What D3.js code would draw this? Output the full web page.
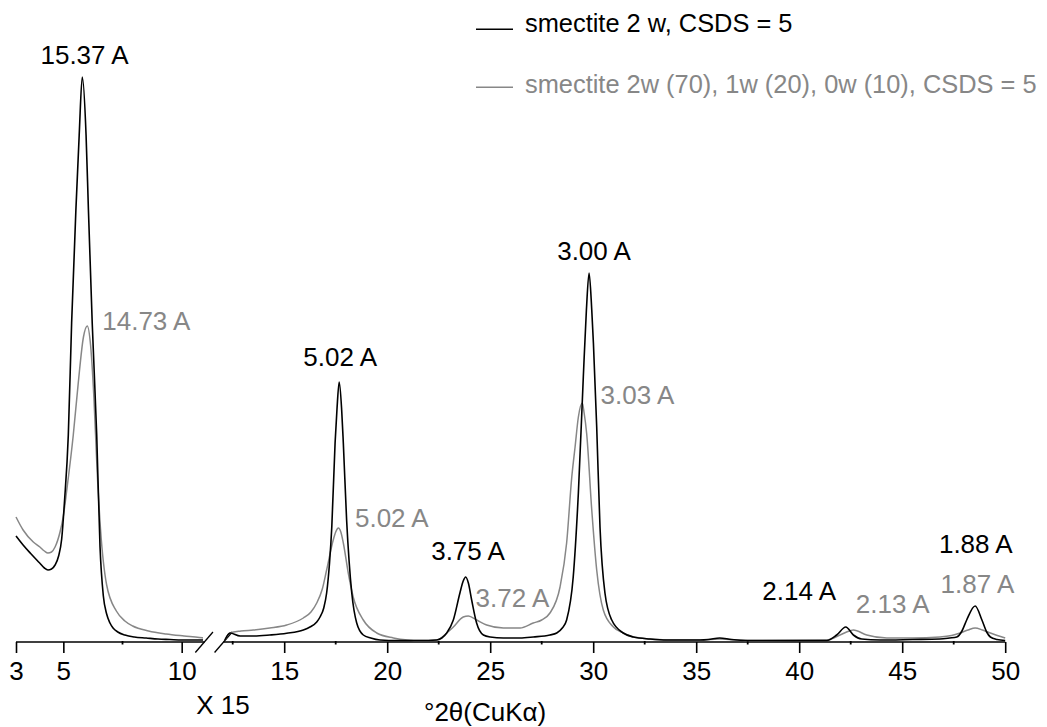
<!DOCTYPE html>
<html>
<head>
<meta charset="utf-8">
<script src="https://cdn.jsdelivr.net/npm/d3@7"></script>
<style>
  html, body { margin: 0; padding: 0; background: #fff; }
  svg { display: block; }
  text { font-family: "Liberation Sans", Arial, Helvetica, sans-serif; }
</style>
</head>
<body>
<svg id="chart" width="1047" height="727"></svg>
<script>
// ---------------- DATA ----------------
// Left segment (3-11 °2θ, true scale) : [°2θ, intensity]
const blackLeft = [
  [3.00,105],[3.3,96],[3.6,88],[4.0,78],[4.2,73],[4.35,71],[4.5,72],[4.65,76],[4.8,85],
  [4.93,102],[5.05,140],[5.21,206],[5.35,318],[5.53,431],[5.67,506],[5.80,564],[5.96,506],
  [6.06,431],[6.22,318],[6.41,206],[6.55,94],[6.69,45],[6.83,27],[6.97,18],[7.1,13],
  [7.3,9],[7.6,6],[8.0,4],[8.5,3],[9.0,2],[9.5,1.5],[10.0,1],[10.5,1],[10.9,1]
];
const grayLeft = [
  [3.00,124],[3.3,111],[3.73,99],[4.01,94],[4.2,90],[4.35,88],[4.5,89],[4.65,94],[4.86,109],
  [5.0,125],[5.14,150],[5.42,206],[5.63,258],[5.85,304],[6.01,315],[6.15,296],[6.29,244],
  [6.43,169],[6.57,112],[6.83,56],[7.24,30],[7.6,20],[7.93,15],[8.6,10],[9.34,7],
  [10.1,5],[10.75,3.5],[10.9,3]
];
// Right segment (12-50 °2θ, intensity x 15)
const blackRight = [
  [12.12,1],[12.37,8],[12.86,5],[13.5,5],[14.3,6],[15.12,7.7],[15.93,11],[16.25,14],
  [16.58,19],[16.74,24],[16.92,33],[17.06,48],[17.2,78],[17.31,114],[17.47,198],[17.56,231],
  [17.67,259],[17.79,231],[17.87,198],[18.03,121],[18.15,80],[18.28,48],[18.52,18],[18.84,6],
  [19.2,3],[19.65,1],[20.5,0.5],[21.6,0.5],[22.4,1],[22.65,3],[22.89,8],[23.21,21],
  [23.53,48],[23.69,60],[23.81,64],[23.94,58],[24.10,41],[24.34,18],[24.67,6],[25.0,4],
  [25.64,3],[26.45,3],[27.09,4],[27.9,6],[28.23,8],[28.5,13],[28.71,21],[29.03,64],
  [29.28,148],[29.52,264],[29.67,331],[29.80,368],[29.93,331],[30.01,298],[30.17,214],
  [30.33,114],[30.57,48],[30.9,21],[31.46,8],[31.95,4],[32.76,2],[33.57,1],[35.19,1],
  [35.6,1.5],[36.14,3],[36.7,1.5],[37.5,0.5],[41.34,0.5],[41.82,6],[42.26,14],[42.63,6],
  [43.03,2],[43.93,1],[45.5,1.5],[46.83,2],[47.3,3],[47.65,4],[47.9,10],[48.13,21],
  [48.54,35],[48.87,21],[49.1,9],[49.28,4],[49.6,1.5],[50.0,0.5]
];
const grayRight = [
  [12.12,1],[12.37,8],[12.9,10],[13.5,11],[14.3,13],[15.12,16],[15.93,23],[16.3,29],
  [16.58,38],[16.85,52],[17.06,71],[17.38,101],[17.5,109],[17.63,113],[17.75,109],
  [17.87,98],[18.11,68],[18.35,44],[18.84,21],[19.49,8],[20.3,3],[21.0,1],[21.59,0.5],
  [22.4,1],[22.89,8],[23.21,14],[23.69,24],[23.94,25],[24.34,21],[24.83,16],[25.64,13],
  [26.45,13],[27.09,18],[27.5,21],[27.9,28],[28.39,54],[28.71,98],[28.96,164],[29.12,194],
  [29.28,224],[29.47,238],[29.56,228],[29.68,208],[29.93,131],[30.17,71],[30.49,31],
  [30.98,14],[31.45,8],[31.95,4],[33.57,1],[35.19,1],[36.14,2],[37.5,0.5],[41.34,1],
  [41.98,6],[42.3,9],[42.63,11],[43.28,6],[44.25,3],[45.5,3],[46.83,4],[47.4,5.5],
  [47.81,8],[48.2,11],[48.54,13],[48.9,11],[49.28,8],[50.0,3]
];

const ticksLeft = [3, 5, 10];
const ticksRight = [15, 20, 25, 30, 35, 40, 45, 50];
const minorLeft = [7.5];
const minorRight = [12.5, 17.5, 22.5, 27.5, 32.5, 37.5, 42.5, 47.5];

const seriesNames = ["smectite 2 w, CSDS = 5", "smectite 2w (70), 1w (20), 0w (10), CSDS = 5"];

// peak labels: text, peak °2θ, peak intensity
const blackLabels = ["15.37 A", "5.02 A", "3.75 A", "3.00 A", "2.14 A", "1.88 A"];
const blackPeaks  = [[5.80,564],[17.67,259],[23.81,64],[29.80,368],[42.26,14],[48.54,35]];
const grayLabels  = ["14.73 A", "5.02 A", "3.72 A", "3.03 A", "2.13 A", "1.87 A"];
const grayPeaks   = [[6.01,315],[17.63,113],[23.94,25],[29.47,238],[42.63,11],[48.54,13]];

const xTitle = "°2θ(CuKα)";
const scaleNote = "X 15";

// ---------------- LAYOUT ----------------
const W = 1047, H = 727;
const axisY = 642;
const black = "#000000", gray = "#878787";
const fontSize = 26;
const legendFontSize = 25.4;
// pixel offsets of label start/baseline from the peak point
const blackOffsets = [[-41.8,-12.7],[-35.9,-16],[-34.5,-17],[-31.9,-13],[-83.4,-27],[-36.2,-53]];
const grayOffsets  = [[15,4],[16.6,-1.3],[7.2,-9.3],[18.3,1],[2.4,-16.7],[-34.6,-34.7]];

const svg = d3.select("#chart");
svg.append("rect").attr("width", W).attr("height", H).attr("fill", "#fff");

const xL = d3.scaleLinear().domain([3, 11]).range([16, 16 + 8 * 23.67]);
const xR = d3.scaleLinear().domain([15, 50]).range([284.2, 1005.2]);
const xRStart = 12.12;
const y = d3.scaleLinear().domain([0, 570]).range([641, 71]);
const xPos = v => (v <= 11.5 ? xL(v) : xR(v));

// ---------------- AXES ----------------
function drawAxis(scale, ticks, start, end) {
  const g = svg.append("g").attr("transform", `translate(0,${axisY})`);
  const ax = d3.axisBottom(scale).tickValues(ticks).tickSize(11).tickPadding(8.5)
    .tickSizeOuter(0).tickFormat(d3.format("d"));
  g.call(ax);
  g.select(".domain").remove();
  g.append("line").attr("x1", scale(start)).attr("x2", scale(end))
    .attr("y1", 0).attr("y2", 0).attr("stroke", black).attr("stroke-width", 1.7);
  g.selectAll(".tick line").attr("stroke", black).attr("stroke-width", 1.6);
  g.selectAll(".tick text").attr("fill", black).style("font-size", fontSize + "px")
    .style("font-family", '"Liberation Sans", Arial, sans-serif');
  return g;
}
drawAxis(xL, ticksLeft, 3, 10.97);
drawAxis(xR, ticksRight, xRStart - 0.07, 50);

// minor ticks
svg.append("g").selectAll("line").data(minorLeft.map(xL).concat(minorRight.map(xR)))
  .join("line").attr("x1", d => d).attr("x2", d => d)
  .attr("y1", axisY - 1).attr("y2", axisY + 2.5)
  .attr("stroke", black).attr("stroke-width", 1.8);

// axis break slashes
const bx1 = xL(10.97) - 0.5, bx2 = xR(xRStart) - 1.5;
[bx1, bx2].forEach(cx => {
  svg.append("line").attr("x1", cx - 8.8).attr("y1", axisY + 10.5)
    .attr("x2", cx + 8.8).attr("y2", axisY - 10)
    .attr("stroke", black).attr("stroke-width", 1.3);
});

// ---------------- CURVES ----------------
function curve(data, scale, color, width) {
  const line = d3.line().x(d => scale(d[0])).y(d => y(d[1])).curve(d3.curveMonotoneX);
  svg.append("path").datum(data).attr("d", line).attr("fill", "none")
    .attr("stroke", color).attr("stroke-width", width)
    .attr("stroke-linejoin", "round");
}
curve(grayLeft, xL, gray, 1.5);
curve(grayRight, xR, gray, 1.5);
curve(blackLeft, xL, black, 1.6);
curve(blackRight, xR, black, 1.6);

// ---------------- LABELS ----------------
function labels(texts, peaks, offsets, color) {
  svg.append("g").selectAll("text").data(texts).join("text")
    .attr("x", (d, i) => xPos(peaks[i][0]) + offsets[i][0])
    .attr("y", (d, i) => y(peaks[i][1]) + offsets[i][1])
    .attr("fill", color).style("font-size", fontSize + "px")
    .text(d => d);
}
labels(blackLabels, blackPeaks, blackOffsets, black);
labels(grayLabels, grayPeaks, grayOffsets, gray);

// axis title & scale note
svg.append("text").attr("x", 424).attr("y", 721).attr("fill", black)
  .style("font-size", fontSize + "px").text(xTitle);
svg.append("text").attr("x", 223).attr("y", 714).attr("fill", black)
  .attr("text-anchor", "middle").style("font-size", fontSize + "px").text(scaleNote);

// ---------------- LEGEND ----------------
const legend = svg.append("g");
const legendRows = [
  { name: seriesNames[0], color: black, lineY: 29.3, textY: 32, w: 1.6 },
  { name: seriesNames[1], color: gray, lineY: 87.3, textY: 93.3, w: 1.5 }
];
legendRows.forEach(r => {
  legend.append("line").attr("x1", 476).attr("x2", 513).attr("y1", r.lineY).attr("y2", r.lineY)
    .attr("stroke", r.color).attr("stroke-width", r.w);
  legend.append("text").attr("x", 525).attr("y", r.textY).attr("fill", r.color)
    .style("font-size", legendFontSize + "px").text(r.name);
});
</script>
</body>
</html>
